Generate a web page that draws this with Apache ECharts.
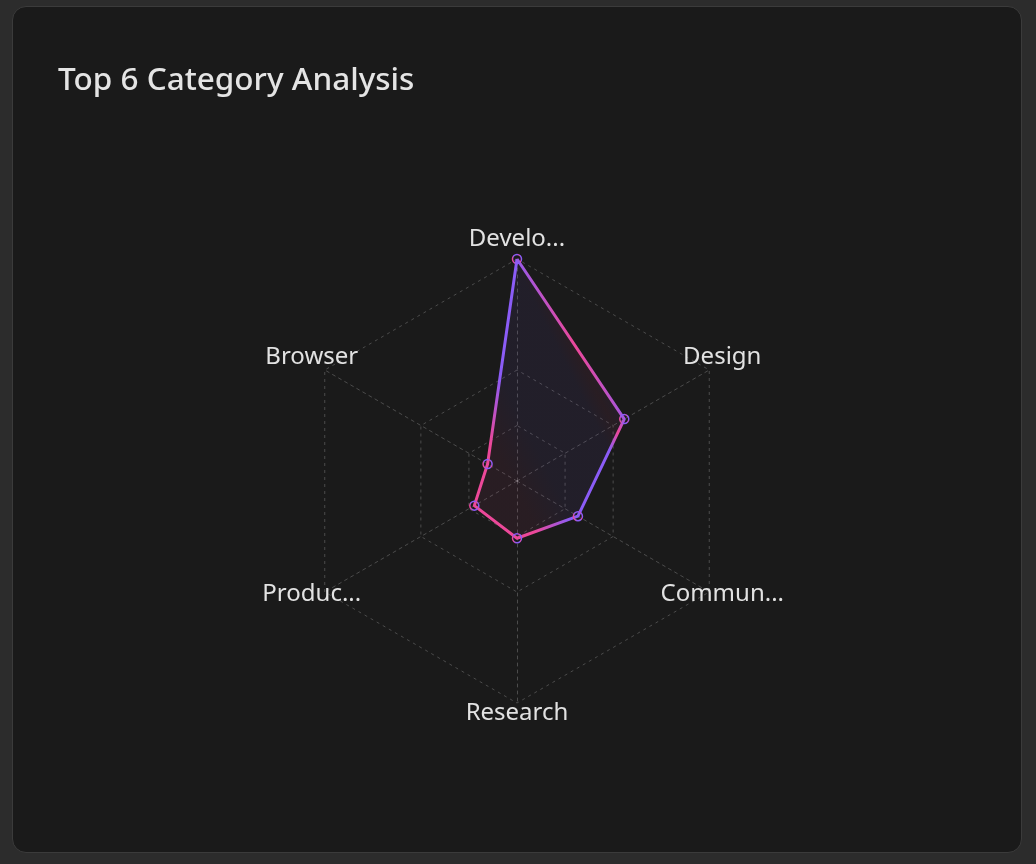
<!DOCTYPE html>
<html>
<head>
<meta charset="utf-8">
<script src="https://cdn.jsdelivr.net/npm/echarts@6/dist/echarts.min.js"></script>
<style>
  html, body { margin: 0; padding: 0; background: #2c2c2c; }
  body { width: 1036px; height: 864px; position: relative; overflow: hidden; }
  .card {
    position: absolute; left: 12px; top: 6px; width: 1008px; height: 845px;
    background: #1a1a1a; border: 1px solid #3b3b3b; border-radius: 14px;
  }
  #chart { width: 100%; height: 100%; }
</style>
</head>
<body>
<div class="card"><div id="chart"></div></div>
<script>
// top 6 categories, clockwise from the top
const categories = ['Development', 'Design', 'Communication', 'Research', 'Productivity', 'Browser'];
const values = [100, 55.8, 31.7, 25.8, 22.2, 15.3];
const maxValue = 100;

const PINK = '#ec4899', PURPLE = '#8b5cf6';
const FONT = '"Noto Sans", "Open Sans", sans-serif';

// echarts runs indicators counter-clockwise, so keep the first one on top and flip the rest
const order = [0].concat(categories.slice(1).map((_, i) => categories.length - 1 - i));

// pink/purple sweep from lower-left to upper-right, with a pink band across the upper-right edge
const stops = [[0, PINK], [0.08, PINK], [0.3, PURPLE], [0.68, PURPLE], [0.77, PINK], [0.86, PURPLE], [1, PURPLE]];
function grad(a) {
    const hex = (c) => a === 1 ? c : c + Math.round(a * 255).toString(16).padStart(2, '0');
    return new echarts.graphic.LinearGradient(0, 0.635, 1, 0.365,
        stops.map(s => ({ offset: s[0], color: hex(s[1]) })));
}

const chart = echarts.init(document.getElementById('chart'), null, { renderer: 'canvas' });
const grid = 'rgba(255,255,255,0.22)';
chart.setOption({
    backgroundColor: 'transparent',
    title: {
        text: 'Top 6 Category Analysis', left: 40, top: 53,
        textStyle: { color: '#e4e4e4', fontSize: 31.5, fontWeight: 500, fontFamily: FONT },
    },
    radar: {
        center: ['50%', 474],
        radius: 222,
        splitNumber: 4,
        shape: 'polygon',
        axisNameGap: 15,
        indicator: order.map(i => ({ name: categories[i], max: maxValue })),
        axisName: {
            color: '#e2e2e2', fontSize: 24, fontFamily: FONT,
            // centred over the tip, sitting roughly on its baseline like the reference
            align: 'center', verticalAlign: 'bottom', lineHeight: 10,
            formatter: (n) => n.length > 8 ? n.slice(0, 6) + '...' : n,
        },
        // no ring at 3/4 in the reference
        splitLine: { lineStyle: { color: [grid, grid, grid, 'transparent', grid], type: [3, 4], width: 1 } },
        splitArea: { show: false },
        axisLine: { lineStyle: { color: grid, type: [3, 4], width: 1 } },
    },
    series: [{
        type: 'radar',
        symbol: 'circle',
        symbolSize: 9,
        lineStyle: { width: 3, color: grad(1) },
        areaStyle: { color: grad(0.1) },
        itemStyle: { color: 'rgba(0,0,0,0)', borderColor: grad(1), borderWidth: 1.5 },
        data: [{ value: order.map(i => values[i]), name: 'Count' }],
    }],
});
</script>
</body>
</html>
